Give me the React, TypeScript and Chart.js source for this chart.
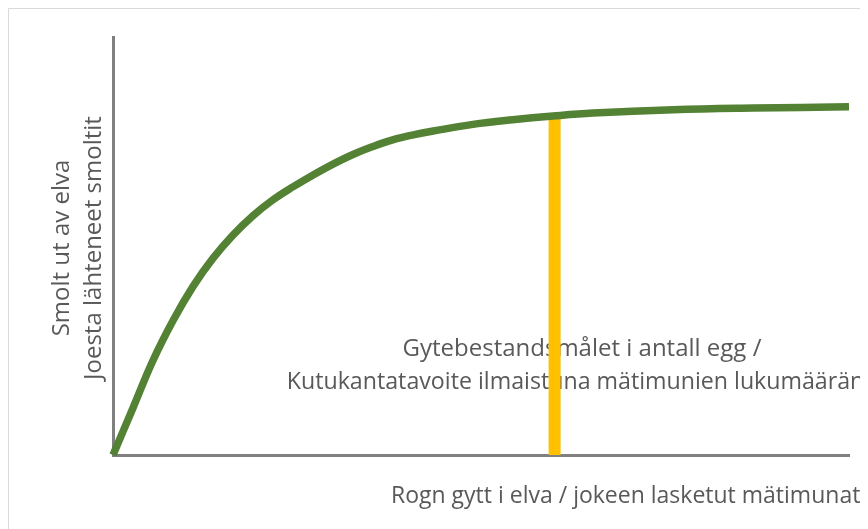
import React, { useEffect, useRef } from "react";
import { Chart, registerables } from "chart.js";
Chart.register(...registerables);

// Stock–recruitment curve (relative units: eggs deposited vs smolts produced)
const eggs = [0, 2.7, 5.4, 8.2, 10.9, 13.6, 16.3, 19.0, 21.7, 24.5, 27.2, 29.9, 32.6, 35.3, 38.0, 40.8, 43.5, 48.9, 54.3, 59.8, 65.2, 76.1, 87.0, 100];
const smolts = [0, 11.2, 22.5, 32.3, 40.4, 47.1, 52.6, 57.2, 61.0, 64.2, 67.0, 69.6, 71.9, 73.8, 75.4, 76.6, 77.5, 79.1, 80.2, 81.1, 81.8, 82.6, 83.0, 83.3];
// Spawning target (vertical bar)
const targetEggs = [60, 60];
const targetSmolts = [0, 81];

const xTitle = "Rogn gytt i elva / jokeen lasketut mätimunat";
const yTitleLines = ["Smolt ut av elva", "Joesta lähteneet smoltit"];
const targetLabelLines = ["Gytebestandsmålet i antall egg /", "Kutukantatavoite ilmaistuna mätimunien lukumääränä"];

const TEXT_COLOR = "#595959";

export default function App() {
  const ref = useRef<HTMLCanvasElement | null>(null);

  useEffect(() => {
    const canvas = ref.current;
    if (!canvas) return;

    const textPlugin = {
      id: "texts",
      beforeDraw(chart: any) {
        const ctx = chart.ctx;
        ctx.save();
        ctx.strokeStyle = "#D9D9D9";
        ctx.lineWidth = 1;
        ctx.beginPath();
        ctx.moveTo(0.5, chart.height);
        ctx.lineTo(0.5, 0.5);
        ctx.lineTo(chart.width, 0.5);
        ctx.stroke();
        ctx.restore();
      },
      beforeDatasetsDraw(chart: any) {
        const ctx = chart.ctx;
        const area = chart.chartArea;
        ctx.save();
        ctx.fillStyle = TEXT_COLOR;
        ctx.textBaseline = "alphabetic";
        // target label
        ctx.textAlign = "center";
        const cx = 574;
        ctx.font = '24px "Open Sans"';
        ctx.fillText(targetLabelLines[0], cx, 348);
        ctx.font = '23.2px "Open Sans"';
        ctx.fillText(targetLabelLines[1], cx, 381);
        // x title
        ctx.textAlign = "left";
        ctx.font = '23px "Open Sans"';
        ctx.fillText(xTitle, 383, 495);
        // y title
        ctx.font = '24px "Open Sans"';
        const cy = (area.top + area.bottom) / 2 + 2;
        ctx.textAlign = "center";
        ctx.save();
        ctx.translate(61, cy);
        ctx.rotate(-Math.PI / 2);
        ctx.fillText(yTitleLines[0], 0, 0);
        ctx.restore();
        ctx.save();
        ctx.translate(93, cy);
        ctx.rotate(-Math.PI / 2);
        ctx.fillText(yTitleLines[1], 0, 0);
        ctx.restore();
        ctx.restore();
      },
    };

    const chart = new Chart(canvas, {
      type: "line",
      data: {
        datasets: [
          {
            label: "Gytebestandsmål",
            data: targetEggs.map((x, i) => ({ x, y: targetSmolts[i] })),
            borderColor: "#FFC000",
            borderWidth: 12,
            borderCapStyle: "butt",
            pointRadius: 0,
            tension: 0,
            order: 2,
            clip: false as any,
          },
          {
            label: "Smolt",
            data: eggs.map((x, i) => ({ x, y: smolts[i] })),
            borderColor: "#548235",
            borderWidth: 7.5,
            pointRadius: 0,
            tension: 0.4,
            order: 1,
            clip: false as any,
          },
        ],
      },
      options: {
        animation: false,
        responsive: false,
        events: [],
        layout: { padding: { left: 105, top: 29, right: 19, bottom: 74 } },
        plugins: { legend: { display: false }, tooltip: { enabled: false }, title: { display: false } },
        scales: {
          x: {
            type: "linear",
            min: 0,
            max: 100,
            ticks: { display: false },
            grid: { display: false, drawTicks: false },
            border: { display: true, color: "#808080", width: 3 },
          },
          y: {
            type: "linear",
            min: 0,
            max: 100,
            ticks: { display: false },
            grid: { display: false, drawTicks: false },
            border: { display: true, color: "#808080", width: 3 },
          },
        },
      },
      plugins: [textPlugin],
    });
    return () => chart.destroy();
  }, []);

  return <canvas ref={ref} width={860} height={521} style={{ display: "block" }} />;
}
